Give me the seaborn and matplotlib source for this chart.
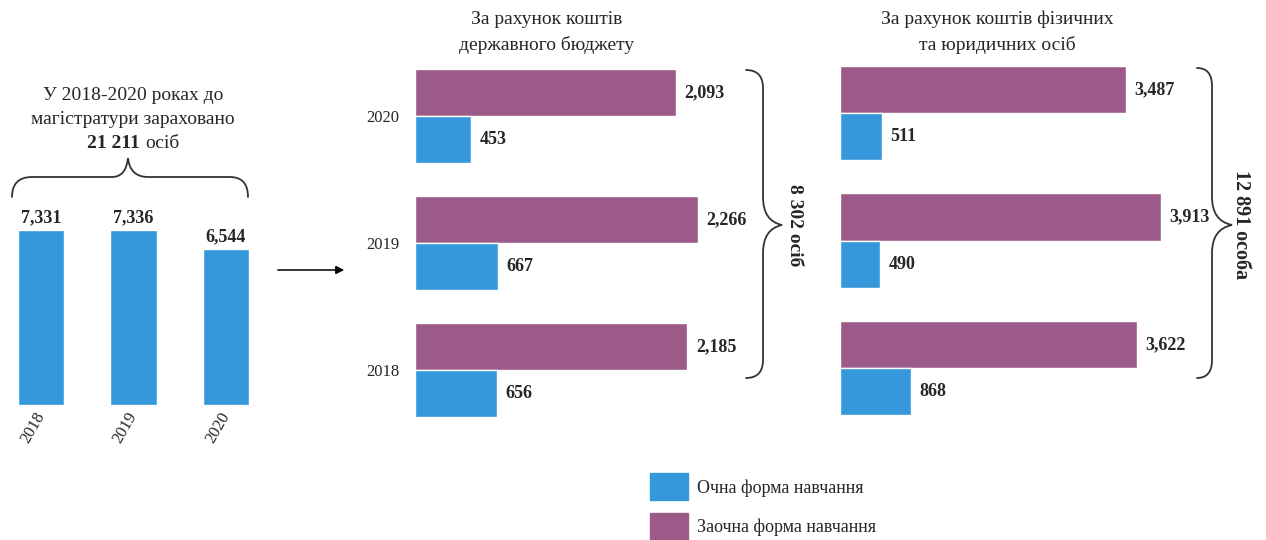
import matplotlib
matplotlib.use("Agg")
import matplotlib.pyplot as plt
from matplotlib.path import Path
from matplotlib.patches import PathPatch, Rectangle, FancyArrowPatch
import seaborn as sns
import pandas as pd

# ---------------- data ----------------
total_years = ["2018", "2019", "2020"]
total_values = [7331, 7336, 6544]

years = ["2020", "2019", "2018"]
forms = ["Заочна форма навчання", "Очна форма навчання"]
budget_full = [453, 667, 656]        # Очна
budget_part = [2093, 2266, 2185]     # Заочна
private_full = [511, 490, 868]       # Очна
private_part = [3487, 3913, 3622]    # Заочна

BLUE = "#3598DB"
PURPLE = "#9C5A88"

sns.set_style("white")
plt.rcParams["font.family"] = ["Liberation Serif", "DejaVu Serif"]

W, H = 1266, 540
fig = plt.figure(figsize=(W / 100, H / 100), dpi=100)


def fpos(x0, y_top, x1, y_bot):
    return [x0 / W, 1 - y_bot / H, (x1 - x0) / W, (y_bot - y_top) / H]


def long_df(full, part):
    rows = []
    for y, f, p in zip(years, full, part):
        rows.append({"year": y, "form": forms[0], "value": p})
        rows.append({"year": y, "form": forms[1], "value": f})
    return pd.DataFrame(rows)


# ---------------- left panel ----------------
axL = fig.add_axes(fpos(4, 405 - 0.02385 * 8000, 272.25, 405))
sns.barplot(x=total_years, y=total_values, color=BLUE, width=0.5, ax=axL,
            saturation=1)
axL.set_xlim(-0.4, 2.5)
axL.set_ylim(0, 8000)
for c in axL.containers:
    axL.bar_label(c, fmt="{:,.0f}", padding=3, fontweight="bold", fontsize=13)
axL.set_yticks([])
axL.set_xticklabels(total_years, rotation=60, ha="right", va="center",
                    rotation_mode="anchor", fontsize=12)
axL.tick_params(axis="x", length=0, pad=6)
sns.despine(ax=axL, left=True, bottom=True)
axL.set_xlabel("")
axL.set_ylabel("")

# ---------------- middle panel ----------------
pal = {forms[0]: PURPLE, forms[1]: BLUE}
axM = fig.add_axes(fpos(415, 116 - 63.5, 415 + 0.1247 * 2800, 370 + 63.5))
sns.barplot(data=long_df(budget_full, budget_part), y="year", x="value",
            hue="form", order=years, hue_order=forms, palette=pal,
            orient="h", width=0.74, ax=axM, saturation=1, legend=False)
axM.set_xlim(0, 2800)
axM.set_ylim(2.5, -0.5)
for c in axM.containers:
    axM.bar_label(c, fmt="{:,.0f}", padding=6, fontweight="bold", fontsize=13)
axM.set_xticks([])
axM.tick_params(axis="y", length=0, pad=11, labelsize=12)
sns.despine(ax=axM, left=True, bottom=True)
axM.set_xlabel("")
axM.set_ylabel("")

# ---------------- right panel ----------------
axR = fig.add_axes(fpos(840, 113 - 63.5, 840 + 0.082 * 4200, 368 + 63.5))
sns.barplot(data=long_df(private_full, private_part), y="year", x="value",
            hue="form", order=years, hue_order=forms, palette=pal,
            orient="h", width=0.74, ax=axR, saturation=1, legend=False)
axR.set_xlim(0, 4200)
axR.set_ylim(2.5, -0.5)
for c in axR.containers:
    axR.bar_label(c, fmt="{:,.0f}", padding=6, fontweight="bold", fontsize=13)
axR.set_xticks([])
axR.set_yticks([])
sns.despine(ax=axR, left=True, bottom=True)
axR.set_xlabel("")
axR.set_ylabel("")

# ---------------- overlay (text, braces, arrow) ----------------
ov = fig.add_axes([0, 0, 1, 1], zorder=5)
ov.set_xlim(0, W)
ov.set_ylim(H, 0)
ov.axis("off")
ov.patch.set_alpha(0)

ov.text(547, 20, "За рахунок коштів", ha="center", va="center", fontsize=14)
ov.text(547, 45, "державного бюджету", ha="center", va="center", fontsize=14)
ov.text(997, 19, "За рахунок коштів фізичних", ha="center", va="center", fontsize=14)
ov.text(997, 45, "та юридичних осіб", ha="center", va="center", fontsize=14)

ov.text(133, 95, "У 2018-2020 роках до", ha="center", va="center", fontsize=14)
ov.text(133, 119, "магістратури зараховано", ha="center", va="center", fontsize=14)
ov.text(140, 143, "21 211", ha="right", va="center", fontsize=14, fontweight="bold")
ov.text(145, 143, "осіб", ha="left", va="center", fontsize=14)

ov.text(795, 225, "8 302 осіб", ha="center", va="center", rotation=-90,
        fontsize=14, fontweight="bold")
ov.text(1241, 225, "12 891 особа", ha="center", va="center", rotation=-90,
        fontsize=14.5, fontweight="bold")


def draw_path(verts, codes):
    ov.add_patch(PathPatch(Path(verts, codes), fill=False, lw=1.3,
                           edgecolor="#333333", capstyle="round"))


M, L3, C3 = Path.MOVETO, Path.LINETO, Path.CURVE3

# horizontal brace (left panel)
draw_path([(12, 197), (12, 177), (32, 177), (112, 177), (126, 177), (128, 158),
           (130, 177), (148, 177), (230, 177), (248, 177), (248, 197)],
          [M, C3, C3, L3, C3, C3, C3, C3, L3, C3, C3])


def vbrace(x_end, x_line, x_tip, y_top, y_mid, y_bot):
    draw_path([(x_end, y_top), (x_line, y_top), (x_line, y_top + 18),
               (x_line, y_mid - 28), (x_line, y_mid - 4), (x_tip, y_mid),
               (x_line, y_mid + 4), (x_line, y_mid + 28),
               (x_line, y_bot - 18), (x_line, y_bot), (x_end, y_bot)],
              [M, C3, C3, L3, C3, C3, C3, C3, L3, C3, C3])


vbrace(746, 763, 782, 70, 225, 378)
vbrace(1197, 1212, 1232, 68, 225, 378)

ov.add_patch(FancyArrowPatch((275, 270), (347, 270), arrowstyle="-|>",
                             mutation_scale=12, lw=1.1, color="black"))

# ---------------- legend ----------------
ov.add_patch(Rectangle((650, 473), 38, 27, color=BLUE))
ov.add_patch(Rectangle((650, 513), 38, 27, color=PURPLE))
ov.text(697, 488, "Очна форма навчання", ha="left", va="center", fontsize=13)
ov.text(697, 527, "Заочна форма навчання", ha="left", va="center", fontsize=13)

fig.savefig("out.png", dpi=100)
